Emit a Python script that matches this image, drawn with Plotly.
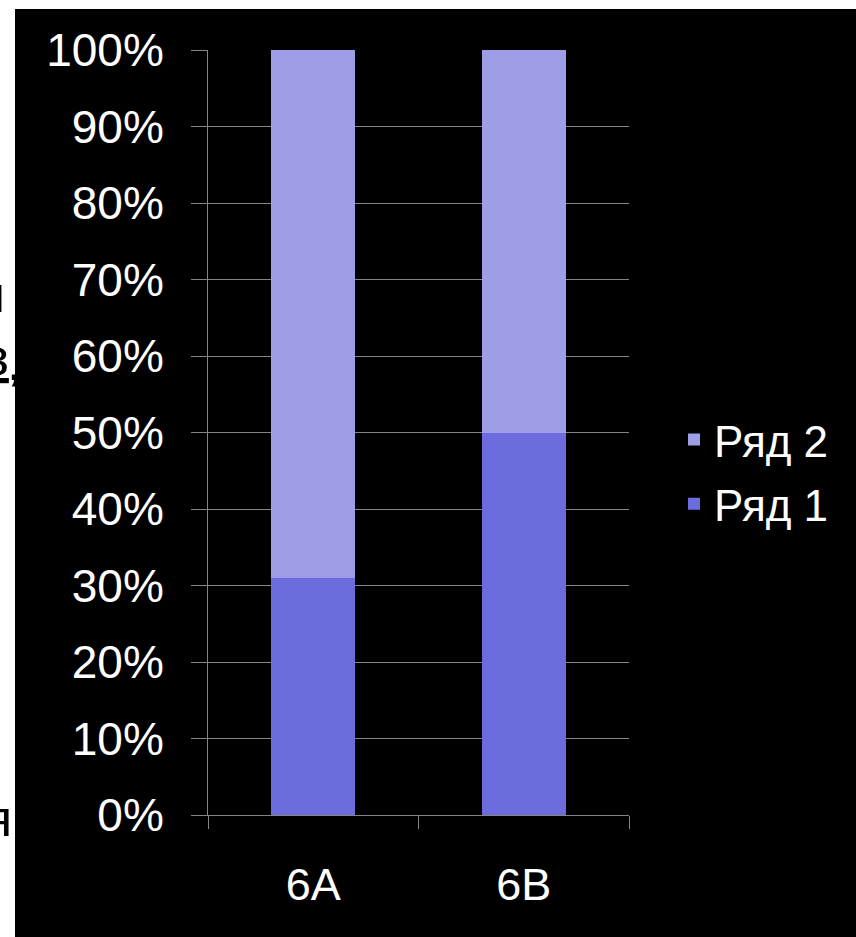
import plotly.graph_objects as go

# Class shares (percent of each class)
classes = ["6A", "6B"]
series_names = ["Ряд 1", "Ряд 2"]
row1 = [31, 50]
row2 = [69, 50]
y_ticks = [0, 10, 20, 30, 40, 50, 60, 70, 80, 90, 100]
y_tick_text = [f"{v}%" for v in y_ticks]

W, H = 856, 937
PL, PR, PT, PB = 208, 629, 50, 815  # plot area in pixels
pw, ph = PR - PL, PB - PT


def px_to_paper_x(px):
    return (px - PL) / pw


def px_to_paper_y(py):
    return (PB - py) / ph


FONT = "Liberation Sans, Arial, sans-serif"

fig = go.Figure()
fig.add_trace(go.Bar(
    x=classes, y=row1, name=series_names[0], legendgroup="r1", legendrank=2,
    marker=dict(color="#6c6cde", line=dict(width=0)),
))
fig.add_trace(go.Bar(
    x=classes, y=row2, name=series_names[1], legendgroup="r2", legendrank=1,
    marker=dict(color="#9e9ee6", line=dict(width=0)),
))

# black slide panel behind the chart, leaving a white strip top and left
fig.add_shape(
    type="rect", xref="paper", yref="paper", layer="below",
    x0=px_to_paper_x(15), x1=px_to_paper_x(W + 5),
    y0=px_to_paper_y(H + 5), y1=px_to_paper_y(9),
    fillcolor="black", line=dict(width=0),
)

# fragments of slide text peeking in at the left edge
for txt, px, py in [("и", 7, 294), ("<u>з</u>", 11, 357), (",", 23, 362), ("я", 14, 818)]:
    fig.add_annotation(
        text=txt, xref="paper", yref="paper",
        x=px_to_paper_x(px), y=px_to_paper_y(py),
        xanchor="right", yanchor="middle", showarrow=False,
        font=dict(family=FONT, size=52, color="black"),
    )

fig.update_layout(
    width=W, height=H,
    margin=dict(l=PL, r=W - PR, t=PT, b=H - PB, pad=0),
    paper_bgcolor="white",
    plot_bgcolor="#414141",
    barmode="stack",
    bargap=0.6,
    showlegend=True,
    legend=dict(
        x=px_to_paper_x(674), y=px_to_paper_y(472),
        xanchor="left", yanchor="middle",
        traceorder="grouped", tracegroupgap=4,
        font=dict(family=FONT, size=44, color="white"),
        bgcolor="rgba(0,0,0,0)",
    ),
    font=dict(family=FONT, color="white"),
)

fig.update_yaxes(
    range=[0, 100], tickmode="array", tickvals=y_ticks, ticktext=y_tick_text,
    showgrid=True, gridcolor="#858585", gridwidth=1,
    showline=True, linecolor="#858585", linewidth=1,
    ticks="outside", ticklen=16, tickcolor="#858585",
    ticklabelstandoff=18,
    tickfont=dict(family=FONT, size=46, color="white"),
    zeroline=False, fixedrange=True,
)
fig.update_xaxes(
    showline=True, linecolor="#858585", linewidth=1,
    ticks="outside", ticklen=13, tickcolor="#858585",
    tickson="boundaries", ticklabelstandoff=30,
    tickfont=dict(family=FONT, size=45, color="white"),
    showgrid=False, fixedrange=True,
)

fig.write_html("out.html")
